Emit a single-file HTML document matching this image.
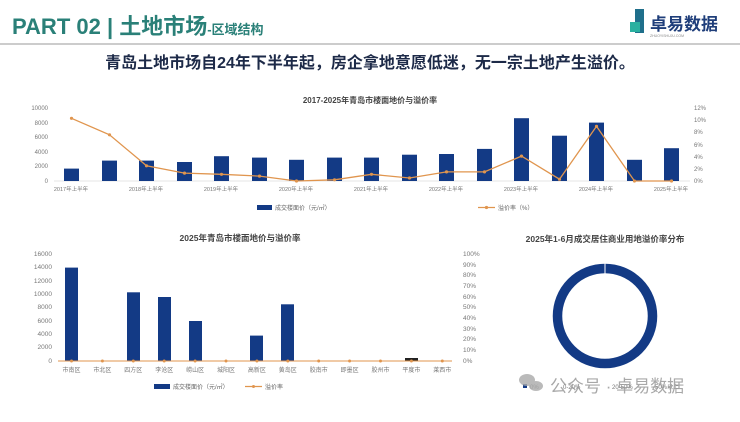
<!DOCTYPE html>
<html><head><meta charset="utf-8"><style>
body{margin:0;width:740px;height:417px;background:#fff;overflow:hidden;font-family:"Liberation Sans","Noto Sans CJK SC",sans-serif}
</style></head><body>
<svg width="740" height="417" xmlns="http://www.w3.org/2000/svg" font-family="Liberation Sans, Noto Sans CJK SC, sans-serif">
<text x="12" y="34" font-size="22" font-weight="bold" fill="#2a8078">PART 02 | 土地市场<tspan font-size="13">-区域结构</tspan></text>
<rect x="635" y="9" width="9" height="24" fill="#1f6f8b"/><rect x="630" y="22" width="10" height="10" fill="#2ab0a0"/>
<text x="650" y="30" font-size="17" font-weight="bold" fill="#1f3e7a">卓易数据</text>
<text x="650" y="37" font-size="3.5" fill="#888">ZHUOYISHUJU.COM</text>
<line x1="0" y1="44" x2="740" y2="44" stroke="#999" stroke-width="1"/>
<text x="370" y="68" font-size="16" font-weight="bold" fill="#1d2a48" text-anchor="middle">青岛土地市场自24年下半年起，房企拿地意愿低迷，无一宗土地产生溢价。</text>

<!-- chart 1 -->
<text x="370" y="103" font-size="8" font-weight="bold" fill="#444" text-anchor="middle">2017-2025年青岛市楼面地价与溢价率</text>
<g font-size="6" fill="#777" text-anchor="end">
<text x="48" y="110">10000</text><text x="48" y="125">8000</text><text x="48" y="139">6000</text><text x="48" y="154">4000</text><text x="48" y="168">2000</text><text x="48" y="183">0</text></g>
<g font-size="6" fill="#777">
<text x="694" y="110">12%</text><text x="694" y="122">10%</text><text x="694" y="134">8%</text><text x="694" y="147">6%</text><text x="694" y="159">4%</text><text x="694" y="171">2%</text><text x="694" y="183">0%</text></g>
<line x1="54" y1="181" x2="690" y2="181" stroke="#ccc" stroke-width="0.6"/>
<g fill="#133a85">
<rect x="64" y="168.6" width="15" height="12.4"/><rect x="102" y="160.6" width="15" height="20.4"/><rect x="139" y="160.6" width="15" height="20.4"/><rect x="177" y="162" width="15" height="19"/><rect x="214" y="156.2" width="15" height="24.8"/><rect x="252" y="157.6" width="15" height="23.4"/><rect x="289" y="159.8" width="15" height="21.2"/><rect x="327" y="157.6" width="15" height="23.4"/><rect x="364" y="157.6" width="15" height="23.4"/><rect x="402" y="154.7" width="15" height="26.3"/><rect x="439" y="154" width="15" height="27"/><rect x="477" y="148.9" width="15" height="32.1"/><rect x="514" y="118.2" width="15" height="62.8"/><rect x="552" y="135.7" width="15" height="45.3"/><rect x="589" y="122.6" width="15" height="58.4"/><rect x="627" y="159.8" width="15" height="21.2"/><rect x="664" y="148.2" width="15" height="32.8"/></g>
<polyline fill="none" stroke="#e0954e" stroke-width="1.3" points="71.5,118.3 109.5,134.8 146.5,165.8 184.5,173.1 221.5,174.3 259.5,176.1 296.5,181 334.5,179.8 371.5,174.3 409.5,178 446.5,171.9 484.5,171.9 521.5,156.1 559.5,179.2 596.5,126.3 634.5,181 671.5,181"/>
<g fill="#e0954e"><circle cx="71.5" cy="118.3" r="1.6"/><circle cx="109.5" cy="134.8" r="1.6"/><circle cx="146.5" cy="165.8" r="1.6"/><circle cx="184.5" cy="173.1" r="1.6"/><circle cx="221.5" cy="174.3" r="1.6"/><circle cx="259.5" cy="176.1" r="1.6"/><circle cx="296.5" cy="181" r="1.6"/><circle cx="334.5" cy="179.8" r="1.6"/><circle cx="371.5" cy="174.3" r="1.6"/><circle cx="409.5" cy="178" r="1.6"/><circle cx="446.5" cy="171.9" r="1.6"/><circle cx="484.5" cy="171.9" r="1.6"/><circle cx="521.5" cy="156.1" r="1.6"/><circle cx="559.5" cy="179.2" r="1.6"/><circle cx="596.5" cy="126.3" r="1.6"/><circle cx="634.5" cy="181" r="1.6"/><circle cx="671.5" cy="181" r="1.6"/></g>
<g font-size="5.5" fill="#777" text-anchor="middle">
<text x="71" y="191">2017年上半年</text><text x="146" y="191">2018年上半年</text><text x="221" y="191">2019年上半年</text><text x="296" y="191">2020年上半年</text><text x="371" y="191">2021年上半年</text><text x="446" y="191">2022年上半年</text><text x="521" y="191">2023年上半年</text><text x="596" y="191">2024年上半年</text><text x="671" y="191">2025年上半年</text></g>
<rect x="257" y="205" width="15" height="5" fill="#133a85"/><text x="275" y="210" font-size="6" fill="#666">成交楼面价（元/㎡）</text>
<line x1="478" y1="207.5" x2="495" y2="207.5" stroke="#e0954e" stroke-width="1.3"/><circle cx="486.5" cy="207.5" r="1.6" fill="#e0954e"/><text x="498" y="210" font-size="6" fill="#666">溢价率（%）</text>

<!-- chart 2 -->
<text x="240" y="241" font-size="8.5" font-weight="bold" fill="#444" text-anchor="middle">2025年青岛市楼面地价与溢价率</text>
<g font-size="6.5" fill="#777" text-anchor="end">
<text x="52" y="256">16000</text><text x="52" y="269">14000</text><text x="52" y="283">12000</text><text x="52" y="296">10000</text><text x="52" y="309">8000</text><text x="52" y="323">6000</text><text x="52" y="336">4000</text><text x="52" y="349">2000</text><text x="52" y="363">0</text></g>
<g font-size="6.5" fill="#777">
<text x="463" y="256">100%</text><text x="463" y="267">90%</text><text x="463" y="277">80%</text><text x="463" y="288">70%</text><text x="463" y="299">60%</text><text x="463" y="309">50%</text><text x="463" y="320">40%</text><text x="463" y="331">30%</text><text x="463" y="341">20%</text><text x="463" y="352">10%</text><text x="463" y="363">0%</text></g>
<g fill="#133a85">
<rect x="65" y="267.6" width="13" height="93.4"/><rect x="127" y="292.3" width="13" height="68.7"/><rect x="158" y="297" width="13" height="64"/><rect x="189" y="321" width="13" height="40"/><rect x="250" y="335.6" width="13" height="25.4"/><rect x="281" y="304.3" width="13" height="56.7"/></g>
<rect x="405" y="358" width="13" height="3" fill="#222"/>
<line x1="58" y1="361" x2="452" y2="361" stroke="#e0954e" stroke-width="1"/>
<g fill="#e0954e"><circle cx="71.5" cy="361" r="1.5"/><circle cx="102.4" cy="361" r="1.5"/><circle cx="133.3" cy="361" r="1.5"/><circle cx="164.2" cy="361" r="1.5"/><circle cx="195.1" cy="361" r="1.5"/><circle cx="226" cy="361" r="1.5"/><circle cx="256.9" cy="361" r="1.5"/><circle cx="287.8" cy="361" r="1.5"/><circle cx="318.7" cy="361" r="1.5"/><circle cx="349.6" cy="361" r="1.5"/><circle cx="380.5" cy="361" r="1.5"/><circle cx="411.4" cy="361" r="1.5"/><circle cx="442.3" cy="361" r="1.5"/></g>
<g font-size="6" fill="#777" text-anchor="middle">
<text x="71.5" y="372">市南区</text><text x="102.4" y="372">市北区</text><text x="133.3" y="372">四方区</text><text x="164.2" y="372">李沧区</text><text x="195.1" y="372">崂山区</text><text x="226" y="372">城阳区</text><text x="256.9" y="372">高新区</text><text x="287.8" y="372">黄岛区</text><text x="318.7" y="372">胶南市</text><text x="349.6" y="372">即墨区</text><text x="380.5" y="372">胶州市</text><text x="411.4" y="372">平度市</text><text x="442.3" y="372">莱西市</text></g>
<rect x="154" y="384" width="16" height="5" fill="#133a85"/><text x="173" y="389" font-size="6" fill="#666">成交楼面价（元/㎡）</text>
<line x1="245" y1="386.5" x2="262" y2="386.5" stroke="#e0954e" stroke-width="1.2"/><circle cx="253.5" cy="386.5" r="1.5" fill="#e0954e"/><text x="265" y="389" font-size="6" fill="#666">溢价率</text>

<!-- donut -->
<text x="605" y="242" font-size="8.5" font-weight="bold" fill="#444" text-anchor="middle">2025年1-6月成交居住商业用地溢价率分布</text>
<circle cx="605" cy="316" r="47.5" fill="none" stroke="#133a85" stroke-width="9.5"/>
<line x1="605" y1="263" x2="605" y2="274" stroke="#fff" stroke-width="1"/>
<g font-size="6" fill="#777"><rect x="523" y="384" width="4" height="4" fill="#133a85"/><text x="530" y="389">0%</text><text x="563" y="389">0-20%</text><text x="612" y="389">20-50%</text><text x="655" y="389">50%以上</text></g>
<g fill="#aaa" opacity="0.8"><ellipse cx="527" cy="380" rx="8" ry="6"/><ellipse cx="536" cy="386" rx="7" ry="5"/></g>
<text x="550" y="392" font-size="17" fill="#999" opacity="0.85">公众号 · 卓易数据</text>
</svg>
</body></html>
